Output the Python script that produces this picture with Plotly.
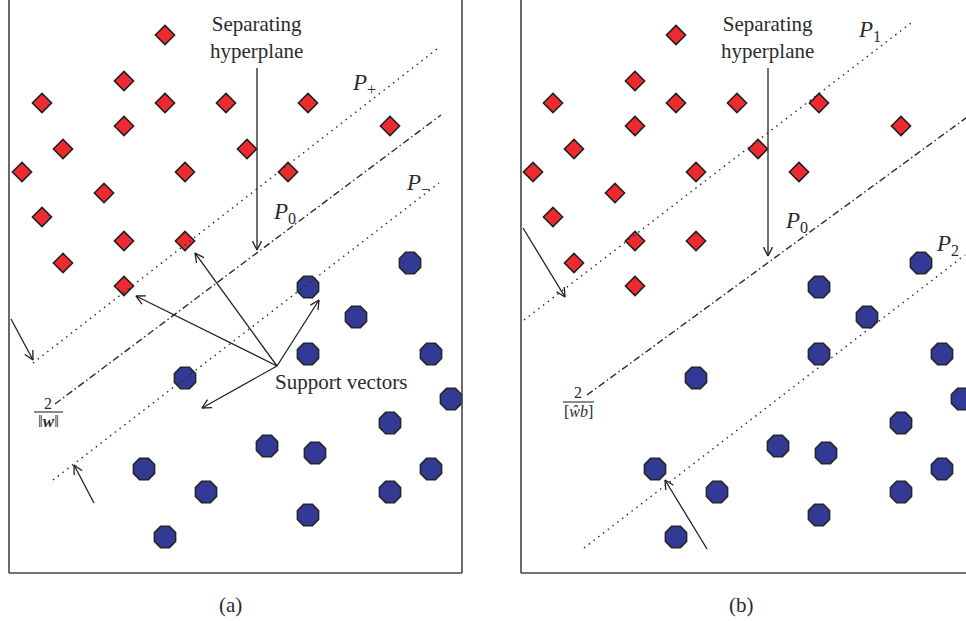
import math
import plotly.graph_objects as go

W, H = 966, 621
SPLIT = 511  # pixel column where panel (b) starts

# Class +1 samples (red diamonds), same layout in both panels
pos_x = [165, 124, 42, 165, 226, 308, 124, 63, 247, 390, 22, 104, 185, 288, 42, 124, 185, 63, 124]
pos_y = [35, 81, 103, 103, 103, 103, 126, 149, 149, 126, 172, 193, 172, 172, 217, 241, 241, 263, 286]

# Class -1 samples (blue octagons)
neg_x = [185, 410, 308, 356, 308, 431, 451, 144, 206, 165, 267, 315, 390, 431, 390, 308]
neg_y = [378, 263, 287, 317, 354, 354, 399, 469, 492, 537, 446, 453, 423, 469, 492, 515]

# Panel (a): margin planes P+, P0, P-
a_pplus_x, a_pplus_y = [33, 437], [363, 49]
a_p0_x, a_p0_y = [55, 441], [404, 115]
a_pminus_x, a_pminus_y = [53, 439], [480, 183]

# Panel (b): planes P1, P0, P2
b_p1_x, b_p1_y = [13, 400], [320, 23]
b_p0_x, b_p0_y = [76, 470], [395, 107]
b_p2_x, b_p2_y = [73, 454], [548, 255]

# Arrows as (tail_x, tail_y, head_x, head_y)
a_arrows = [(257, 68, 257, 250), (11, 319, 33, 360), (94, 503, 74, 465),
            (277, 366, 195, 253), (277, 366, 136, 296),
            (277, 366, 319, 300), (277, 366, 202, 408)]
b_arrows = [(257, 68, 257, 256), (12, 228, 54, 297), (196, 549, 154, 480)]

RED, BLUE = "#ED2A30", "#323A96"
INK = "#2B2B2B"
SERIF = "Liberation Serif, Times New Roman, serif"

fig = go.Figure()


def add_panel(xa, ya):
    fig.add_trace(go.Scatter(
        x=pos_x, y=pos_y, mode="markers", xaxis=xa, yaxis=ya,
        marker=dict(symbol="diamond", size=14.8, color=RED,
                    line=dict(color="#1E1E1E", width=1.5)),
        hoverinfo="skip", showlegend=False))
    fig.add_trace(go.Scatter(
        x=neg_x, y=neg_y, mode="markers", xaxis=xa, yaxis=ya,
        marker=dict(symbol="octagon", size=23, color=BLUE,
                    line=dict(color="#262626", width=1.5)),
        hoverinfo="skip", showlegend=False))


def add_line(xs, ys, dash, xa, ya):
    fig.add_trace(go.Scatter(
        x=xs, y=ys, mode="lines", xaxis=xa, yaxis=ya,
        line=dict(color=INK, width=1.4, dash=dash),
        hoverinfo="skip", showlegend=False))


def add_arrows(arrows, xa, ya, head=10, spread=math.radians(27)):
    # shaft plus an open V head at the tip, one trace per panel
    xs, ys = [], []
    for tx, ty, hx, hy in arrows:
        ang = math.atan2(ty - hy, tx - hx)
        xs += [tx, hx, None]
        ys += [ty, hy, None]
        xs += [hx + head * math.cos(ang + spread), hx,
               hx + head * math.cos(ang - spread), None]
        ys += [hy + head * math.sin(ang + spread), hy,
               hy + head * math.sin(ang - spread), None]
    fig.add_trace(go.Scatter(
        x=xs, y=ys, mode="lines", xaxis=xa, yaxis=ya,
        line=dict(color="#222222", width=1.3),
        hoverinfo="skip", showlegend=False))


DOT = "1.5px,4.5px"
DASHDOT = "7px,3px,1.5px,3px"

add_panel("x", "y")
add_line(a_pplus_x, a_pplus_y, DOT, "x", "y")
add_line(a_p0_x, a_p0_y, DASHDOT, "x", "y")
add_line(a_pminus_x, a_pminus_y, DOT, "x", "y")
add_arrows(a_arrows, "x", "y")

add_panel("x2", "y2")
add_line(b_p1_x, b_p1_y, DOT, "x2", "y2")
add_line(b_p0_x, b_p0_y, DASHDOT, "x2", "y2")
add_line(b_p2_x, b_p2_y, DOT, "x2", "y2")
add_arrows(b_arrows, "x2", "y2")

annotations = []


def label(x, y, text, ref, size=21):
    annotations.append(dict(
        x=x, y=y, xref=ref[0], yref=ref[1], text=text, showarrow=False,
        xanchor="center", yanchor="middle",
        font=dict(family=SERIF, size=size, color=INK)))


for ref, cap in [(("x", "y"), "(a)"), (("x2", "y2"), "(b)")]:
    label(256, 37, "Separating<br>hyperplane", ref)
    label(230, 605, cap, ref)

label(364, 84, "<i>P</i><sub>+</sub>", ("x", "y"), 23)
label(284, 213, "<i>P</i><sub>0</sub>", ("x", "y"), 23)
label(418, 184, "<i>P</i><sub>−</sub>", ("x", "y"), 23)
label(341, 382, "Support vectors", ("x", "y"))
label(48, 403, "2", ("x", "y"), 16)
label(48, 421, "‖<b><i>w</i></b>‖", ("x", "y"), 17)

label(358, 31, "<i>P</i><sub>1</sub>", ("x2", "y2"), 23)
label(285, 222, "<i>P</i><sub>0</sub>", ("x2", "y2"), 23)
label(436, 245, "<i>P</i><sub>2</sub>", ("x2", "y2"), 23)
label(67, 392, "2", ("x2", "y2"), 16)
label(67, 411, "[<i>ŵb</i>]", ("x2", "y2"), 16)

shapes = []


def seg(x0, y0, x1, y1, ref, w=1.6, c="#444444"):
    shapes.append(dict(type="line", x0=x0, y0=y0, x1=x1, y1=y1,
                       xref=ref[0], yref=ref[1],
                       line=dict(color=c, width=w)))


# panel frames (top and the right side of (b) run off the page)
seg(9, -5, 9, 573, ("x", "y"))
seg(9, 573, 462, 573, ("x", "y"))
seg(462, -5, 462, 573, ("x", "y"))
seg(10, -5, 10, 573, ("x2", "y2"))
seg(10, 573, 470, 573, ("x2", "y2"))
# fraction bars
seg(34, 412, 63, 412, ("x", "y"), 1.1, INK)
seg(52, 402, 83, 402, ("x2", "y2"), 1.1, INK)

fig.update_layout(
    width=W, height=H, margin=dict(l=0, r=0, t=0, b=0),
    paper_bgcolor="white", plot_bgcolor="white",
    xaxis=dict(domain=[0, SPLIT / W], range=[0, SPLIT], visible=False, fixedrange=True),
    yaxis=dict(domain=[0, 1], range=[H, 0], visible=False, fixedrange=True),
    xaxis2=dict(domain=[SPLIT / W, 1], range=[0, W - SPLIT], visible=False, fixedrange=True),
    yaxis2=dict(domain=[0, 1], range=[H, 0], visible=False, fixedrange=True, anchor="x2"),
    annotations=annotations, shapes=shapes,
)

fig.write_html("out.html")
